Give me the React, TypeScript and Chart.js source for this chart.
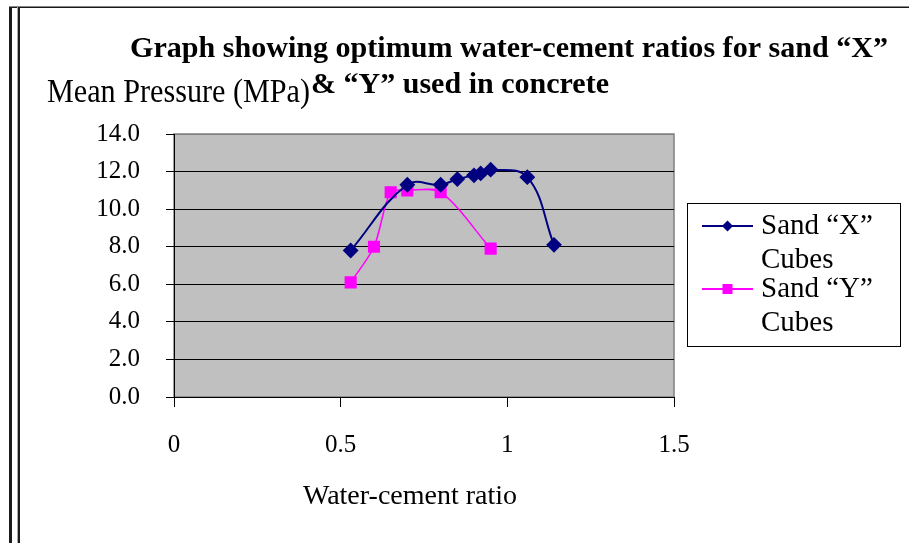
import React, { useEffect, useRef } from "react";
import { Chart, registerables } from "chart.js";

Chart.register(...registerables);

// ---- data ----
const ratiosX = [0.53, 0.7, 0.8, 0.85, 0.9, 0.92, 0.95, 1.06, 1.14];
const pressureX = [7.8, 11.3, 11.3, 11.6, 11.8, 11.9, 12.1, 11.7, 8.1];
const ratiosY = [0.53, 0.6, 0.65, 0.7, 0.8, 0.95];
const pressureY = [6.1, 8.0, 10.9, 11.0, 10.9, 7.9];

const seriesLabels = ["Sand “X” Cubes", "Sand “Y” Cubes"];
const legendLines = [
  ["Sand “X”", "Cubes"],
  ["Sand “Y”", "Cubes"],
];
const titleLine1 = "Graph showing optimum water-cement ratios for sand “X”";
const titleLine2 = "& “Y” used in concrete";
const yAxisTitle = "Mean Pressure (MPa)";
const xAxisTitle = "Water-cement ratio";
const xTickStep = 0.5;
const yTickStep = 2;

const SERIF = "'Liberation Serif', 'Times New Roman', serif";
const NAVY = "#000080";
const MAGENTA = "#FF00FF";

function fitText(
  ctx: CanvasRenderingContext2D,
  text: string,
  x: number,
  y: number,
  font: string,
  width: number
) {
  ctx.save();
  ctx.font = font;
  ctx.textAlign = "left";
  ctx.textBaseline = "alphabetic";
  const w = ctx.measureText(text).width;
  ctx.translate(x, y);
  ctx.scale(width / w, 1);
  ctx.fillText(text, 0, 0);
  ctx.restore();
}

const decorPlugin = {
  id: "decor",
  beforeDraw(chart: any) {
    const { ctx, chartArea } = chart;
    ctx.save();
    ctx.fillStyle = "#ffffff";
    ctx.fillRect(0, 0, chart.width, chart.height);
    // frame
    ctx.fillStyle = "#888888";
    ctx.fillRect(9, 6, 900, 1);
    ctx.fillStyle = "#1a1a1a";
    ctx.fillRect(9, 7, 900, 1);
    ctx.fillRect(9, 7, 3, 536);
    ctx.fillStyle = "#aaaaaa";
    ctx.fillRect(17, 7, 1, 536);
    ctx.fillStyle = "#1a1a1a";
    ctx.fillRect(18, 7, 2, 536);
    // plot area
    ctx.fillStyle = "#C0C0C0";
    ctx.fillRect(chartArea.left, chartArea.top, chartArea.right - chartArea.left, chartArea.bottom - chartArea.top);
    ctx.strokeStyle = "#808080";
    ctx.lineWidth = 1.5;
    ctx.strokeRect(chartArea.left, chartArea.top, chartArea.right - chartArea.left, chartArea.bottom - chartArea.top);
    ctx.restore();
  },
  afterDraw(chart: any) {
    const { ctx } = chart;
    ctx.save();
    ctx.fillStyle = "#000";
    fitText(ctx, titleLine1, 130, 57, `bold 29px ${SERIF}`, 758);
    fitText(ctx, titleLine2, 311, 93, `bold 29px ${SERIF}`, 298);
    fitText(ctx, yAxisTitle, 47, 102, `33px ${SERIF}`, 263);
    // x axis title
    ctx.font = `28px ${SERIF}`;
    ctx.textAlign = "center";
    ctx.textBaseline = "middle";
    ctx.fillText(xAxisTitle, 410, 497);

    // legend
    ctx.strokeStyle = "#000";
    ctx.lineWidth = 1;
    ctx.strokeRect(687.5, 203.5, 213, 143);
    const rows = [
      { y: 226, y2: 260, color: NAVY, style: "diamond" },
      { y: 289, y2: 323, color: MAGENTA, style: "square" },
    ];
    rows.forEach((r, i) => {
      ctx.strokeStyle = r.color;
      ctx.lineWidth = 2;
      ctx.beginPath();
      ctx.moveTo(702, r.y);
      ctx.lineTo(753, r.y);
      ctx.stroke();
      ctx.fillStyle = r.color;
      const cx = 727.5;
      if (r.style === "diamond") {
        ctx.beginPath();
        ctx.moveTo(cx, r.y - 5.5);
        ctx.lineTo(cx + 5.5, r.y);
        ctx.lineTo(cx, r.y + 5.5);
        ctx.lineTo(cx - 5.5, r.y);
        ctx.closePath();
        ctx.fill();
      } else {
        ctx.fillRect(cx - 5, r.y - 5, 10, 10);
      }
      ctx.fillStyle = "#000";
      ctx.textAlign = "left";
      ctx.textBaseline = "middle";
      ctx.font = `29px ${SERIF}`;
      ctx.fillText(legendLines[i][0], 761, r.y);
      ctx.fillText(legendLines[i][1], 761, r.y2);
    });
    ctx.restore();
  },
};

export default function App() {
  const ref = useRef<HTMLCanvasElement | null>(null);
  useEffect(() => {
    if (!ref.current) return;
    const chart = new Chart(ref.current, {
      type: "line",
      data: {
        datasets: [
          {
            label: seriesLabels[0],
            data: ratiosX.map((x, i) => ({ x, y: pressureX[i] })),
            borderColor: NAVY,
            backgroundColor: NAVY,
            borderWidth: 2,
            pointStyle: "rectRot",
            pointRadius: 6.5,
            pointHoverRadius: 6.5,
            pointBackgroundColor: NAVY,
            pointBorderColor: NAVY,
            tension: 0.4,
            fill: false,
          },
          {
            label: seriesLabels[1],
            data: ratiosY.map((x, i) => ({ x, y: pressureY[i] })),
            borderColor: MAGENTA,
            backgroundColor: MAGENTA,
            borderWidth: 1.5,
            pointStyle: "rect",
            pointRadius: 7.5,
            pointHoverRadius: 7.5,
            pointBackgroundColor: MAGENTA,
            pointBorderColor: MAGENTA,
            tension: 0.3,
            fill: false,
          },
        ],
      },
      options: {
        animation: false,
        responsive: false,
        events: [],
        layout: { padding: { left: 0, right: 235, top: 134, bottom: 0 } },
        plugins: {
          legend: { display: false },
          title: { display: false },
          tooltip: { enabled: false },
        },
        scales: {
          x: {
            type: "linear",
            min: 0,
            max: 1.5,
            ticks: {
              stepSize: xTickStep,
              color: "#000",
              padding: 23,
              font: { family: SERIF, size: 25 },
              callback: (v: any) => String(v),
            },
            grid: {
              drawOnChartArea: false,
              drawTicks: true,
              tickLength: 10,
              tickColor: "#000",
              color: "#000",
            },
            border: { color: "#000", width: 1 },
            afterFit: (s: any) => {
              s.height = 146;
            },
          },
          y: {
            type: "linear",
            min: 0,
            max: 14,
            ticks: {
              stepSize: yTickStep,
              color: "#000",
              padding: 26,
              font: { family: SERIF, size: 25 },
              callback: (v: any) => Number(v).toFixed(1),
            },
            grid: {
              color: (c: any) => (c.tick && c.tick.value === 14 ? "#808080" : "#000"),
              lineWidth: 1,
              drawTicks: true,
              tickLength: 8,
              tickColor: "#000",
            },
            border: { color: "#000", width: 1 },
            afterFit: (s: any) => {
              s.width = 174;
            },
          },
        },
      } as any,
      plugins: [decorPlugin],
    });
    return () => chart.destroy();
  }, []);
  return (
    <div style={{ position: "absolute", left: 0, top: 0, width: 909, height: 543 }}>
      <canvas ref={ref} width={909} height={543} style={{ display: "block" }} />
    </div>
  );
}
